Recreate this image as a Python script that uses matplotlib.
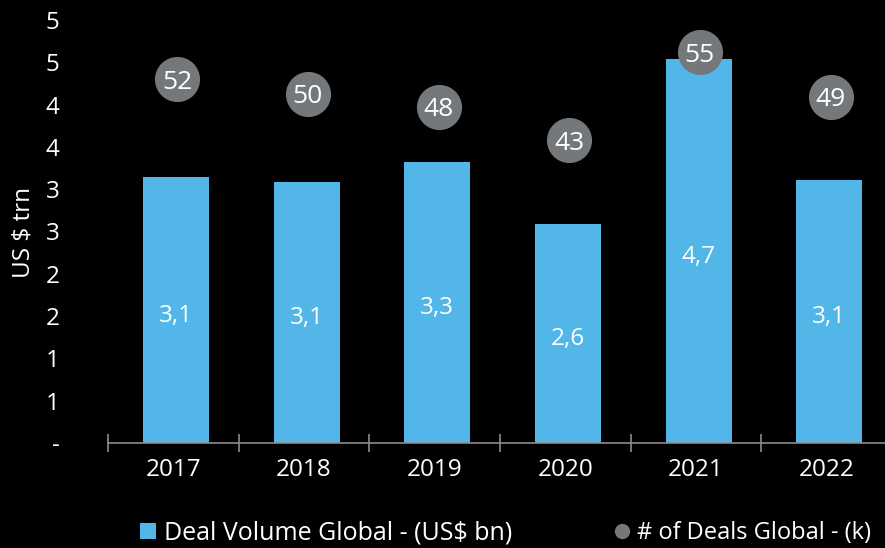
import matplotlib
matplotlib.use("Agg")
import matplotlib.pyplot as plt
from matplotlib.lines import Line2D
from matplotlib.patches import Patch

plt.rcParams['font.family'] = ['Open Sans', 'DejaVu Sans']

years = ["2017", "2018", "2019", "2020", "2021", "2022"]
# bar heights as drawn (US$ trn) and their printed data labels
deal_volume = [3.14, 3.09, 3.32, 2.59, 4.54, 3.11]
deal_volume_labels = ["3,1", "3,1", "3,3", "2,6", "4,7", "3,1"]
# number of deals (k): printed labels and marker level on the chart
deal_counts = [52, 50, 48, 43, 55, 49]
deal_marker_level = [4.30, 4.13, 3.975, 3.58, 4.62, 4.09]

ytick_values = [0, 0.5, 1, 1.5, 2, 2.5, 3, 3.5, 4, 4.5, 5]
ytick_labels = ["-", "1", "1", "2", "2", "3", "3", "4", "4", "5", "5"]

BAR = "#52B7E8"
DOT = "#75787B"
AXC = "#8C8C8C"
FS = 17.5

W, H = 885, 548
fig = plt.figure(figsize=(W / 100, H / 100), dpi=100, facecolor="black")
ax = fig.add_axes([108 / W, (H - 443) / H, 784 / W, 423 / H])
ax.set_facecolor("black")

x = list(range(len(years)))
ax.bar([i + 0.02 for i in x], deal_volume, width=0.505, color=BAR, zorder=2)
for i, (v, lab) in enumerate(zip(deal_volume, deal_volume_labels)):
    ax.annotate(lab, (i + 0.02, v / 2), xytext=(0, -2), textcoords="offset points",
                ha="center", va="center_baseline", color="white",
                fontsize=17.5, zorder=3)

ax.plot([i + 0.03 for i in x], deal_marker_level, linestyle="none", marker="o",
        markersize=32.5, markerfacecolor=DOT, markeredgecolor="none", zorder=4)
for i, (lvl, c) in enumerate(zip(deal_marker_level, deal_counts)):
    ax.text(i + 0.03, lvl, str(c), ha="center", va="center_baseline",
            color="white", fontsize=19, zorder=5)

ax.set_xlim(-0.5, len(years) - 0.5)
ax.set_ylim(0, 5)

for s in ["top", "right", "left"]:
    ax.spines[s].set_visible(False)
ax.spines["bottom"].set_color(AXC)
ax.spines["bottom"].set_linewidth(1.2)

ax.set_xticks([i - 0.5 for i in x])
ax.set_xticklabels([])
ax.tick_params(axis="x", which="major", direction="inout", length=13,
               color=AXC, width=1.2)
ax.set_xticks(x, minor=True)
ax.set_xticklabels(years, minor=True)
ax.tick_params(axis="x", which="minor", length=0, pad=11, labelsize=FS,
               labelcolor="white")

ax.set_yticks(ytick_values)
ax.set_yticklabels(ytick_labels)
ax.tick_params(axis="y", length=0, pad=35, labelsize=FS, labelcolor="white")

fig.text(24 / W, (H - 232) / H, "US $ trn", rotation=90, ha="center",
         va="center", color="white", fontsize=FS)

leg_kw = dict(frameon=False, labelcolor="white", handlelength=0.62,
              handleheight=0.62, handletextpad=0.32, borderaxespad=0, borderpad=0,
              loc="center left")
fig.legend([Patch(facecolor=BAR, edgecolor="none")],
           ["Deal Volume Global - (US$ bn)"], fontsize=18,
           bbox_to_anchor=(140 / W, (H - 533) / H), **leg_kw)
fig.legend([Line2D([0], [0], linestyle="none", marker="o", markersize=11,
                   markerfacecolor=DOT, markeredgecolor="none")],
           ["# of Deals Global - (k)"], fontsize=17,
           bbox_to_anchor=(615 / W, (H - 533) / H), **leg_kw)

fig.savefig("out.png", dpi=100, facecolor="black")
